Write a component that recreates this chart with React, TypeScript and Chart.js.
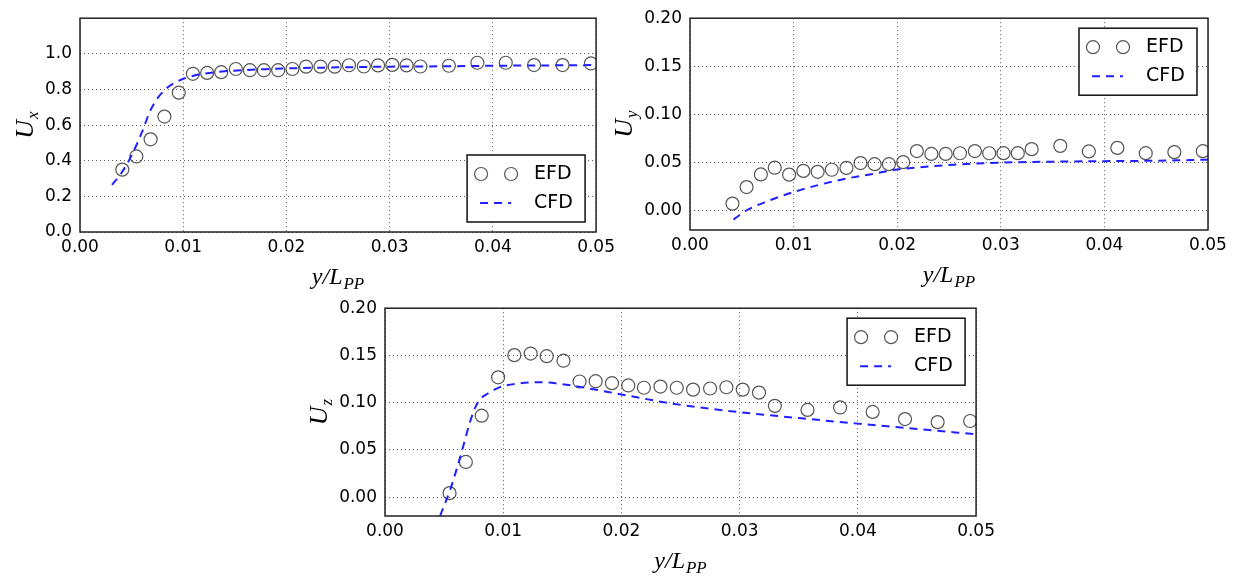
import React, { useEffect, useRef } from "react";
import { Chart, registerables } from "chart.js";
Chart.register(...registerables);

// ---------- data ----------
const xTicks = [0, 0.01, 0.02, 0.03, 0.04, 0.05];
const uxTicks = [0, 0.2, 0.4, 0.6, 0.8, 1.0];
const uyzTicks = [0, 0.05, 0.1, 0.15, 0.2];

const efdX = [
  0.0041, 0.00546, 0.00684, 0.00818, 0.00957, 0.01094, 0.01232, 0.01368, 0.0151, 0.01646,
  0.01782, 0.0192, 0.02058, 0.0219, 0.0233, 0.02468, 0.02606, 0.0275, 0.02888, 0.03026,
  0.03164, 0.03298, 0.03574, 0.0385, 0.04125, 0.04399, 0.04675, 0.0495,
];
const uxEfd = [
  0.35, 0.424, 0.52, 0.648, 0.782, 0.888, 0.893, 0.897, 0.915, 0.908,
  0.908, 0.908, 0.915, 0.928, 0.928, 0.928, 0.936, 0.929, 0.935, 0.938,
  0.935, 0.929, 0.933, 0.95, 0.95, 0.937, 0.937, 0.946,
];
const uyEfd = [
  0.0074, 0.0246, 0.0377, 0.0447, 0.0375, 0.0414, 0.0404, 0.0426, 0.0445, 0.0495,
  0.0484, 0.0484, 0.0505, 0.062, 0.059, 0.059, 0.0597, 0.062, 0.0597, 0.0598,
  0.0598, 0.064, 0.0674, 0.0616, 0.0653, 0.0598, 0.0609, 0.0619,
];
const uzEfdX = [
  0.00546, 0.00684, 0.00818, 0.00957, 0.01094, 0.01232, 0.01368, 0.0151, 0.01646,
  0.01782, 0.0192, 0.02058, 0.0219, 0.0233, 0.02468, 0.02606, 0.0275, 0.02888, 0.03026,
  0.03164, 0.03298, 0.03574, 0.0385, 0.04125, 0.04399, 0.04675, 0.0495,
];
const uzEfd = [
  0.0042, 0.0372, 0.0862, 0.1268, 0.1503, 0.152, 0.1492, 0.1444, 0.1224,
  0.1227, 0.1206, 0.1182, 0.1158, 0.117, 0.1158, 0.1138, 0.115, 0.1163, 0.1138,
  0.1106, 0.0966, 0.0923, 0.0949, 0.0902, 0.0826, 0.0794, 0.0806,
];

const uxCfdX = [
  0.0031, 0.004, 0.005, 0.006, 0.0068, 0.0075, 0.008, 0.0086, 0.0093, 0.01, 0.011, 0.012,
  0.014, 0.016, 0.018, 0.02, 0.025, 0.03, 0.035, 0.04, 0.045, 0.05,
];
const uxCfd = [
  0.264, 0.33, 0.43, 0.56, 0.68, 0.75, 0.785, 0.817, 0.841, 0.86, 0.877, 0.888,
  0.902, 0.909, 0.914, 0.918, 0.924, 0.928, 0.93, 0.933, 0.935, 0.937,
];
const uyCfdX = [
  0.0042, 0.0054, 0.0075, 0.01, 0.0125, 0.015, 0.0175, 0.02, 0.0225, 0.0255, 0.03, 0.035,
  0.04, 0.045, 0.05,
];
const uyCfd = [
  -0.0092, 0.0, 0.01, 0.0195, 0.027, 0.0332, 0.038, 0.0428, 0.0455, 0.0479, 0.05, 0.051,
  0.0515, 0.052, 0.053,
];
const uzCfdX = [
  0.00466, 0.0055, 0.006, 0.0066, 0.0072, 0.0077, 0.0081, 0.0087, 0.0093, 0.01, 0.0114,
  0.0131, 0.015, 0.0175, 0.02, 0.0245, 0.03, 0.035, 0.04, 0.045, 0.05,
];
const uzCfd = [
  -0.0198, 0.0073, 0.027, 0.053, 0.08, 0.0966, 0.1043, 0.1097, 0.114, 0.1175, 0.1205,
  0.1217, 0.1195, 0.1145, 0.1087, 0.0986, 0.0899, 0.0837, 0.0778, 0.0722, 0.0665,
];

// ---------- helpers ----------
const MATH_FONT = '"Liberation Serif", "DejaVu Serif", serif';
const SANS = '"DejaVu Sans", sans-serif';
const CFD_COLOR = "#1f1fff";
const EFD_EDGE = "rgba(55,55,55,0.85)";

function drawMath(ctx: CanvasRenderingContext2D, main: string, sub: string, cx: number, baseY: number, mSize: number, sSize: number) {
  const mf = `italic ${mSize}px ${MATH_FONT}`;
  const sf = `italic ${sSize}px ${MATH_FONT}`;
  ctx.font = mf;
  const w1 = ctx.measureText(main).width;
  ctx.font = sf;
  const w2 = ctx.measureText(sub).width;
  const start = cx - (w1 + w2 + 1) / 2;
  ctx.fillStyle = "#000";
  ctx.textBaseline = "alphabetic";
  ctx.textAlign = "left";
  ctx.font = mf;
  ctx.fillText(main, start, baseY);
  ctx.font = sf;
  ctx.fillText(sub, start + w1 + 1, baseY + sSize * 0.3);
}

type PanelProps = {
  left: number; top: number; width: number; height: number;
  yAxisW: number; xAxisH: number; padTop: number; padRight: number;
  efdXs: number[]; efdYs: number[]; cfdXs: number[]; cfdYs: number[];
  yMin: number; yMax: number; yTickVals: number[]; yDigits: number;
  ySub: string; yLabelOffset: number; legendPos: "top" | "bottom";
};

function Panel(p: PanelProps) {
  const ref = useRef<HTMLCanvasElement | null>(null);
  useEffect(() => {
    if (!ref.current) return;
    const decor = {
      id: "decor",
      afterDraw(chart: any) {
        const { ctx, chartArea: a } = chart;
        ctx.save();
        // frame
        ctx.setLineDash([]);
        ctx.strokeStyle = "#222";
        ctx.lineWidth = 1.5;
        ctx.strokeRect(a.left, a.top, a.right - a.left, a.bottom - a.top);
        // legend
        const lw = 118, lh = 67;
        const lx = a.right - 11 - lw;
        const ly = p.legendPos === "bottom" ? a.bottom - 10 - lh : a.top + 10;
        ctx.fillStyle = "#fff";
        ctx.fillRect(lx, ly, lw, lh);
        ctx.strokeStyle = "#111";
        ctx.lineWidth = 1.5;
        ctx.strokeRect(lx, ly, lw, lh);
        ctx.strokeStyle = EFD_EDGE;
        ctx.lineWidth = 1.2;
        [14, 44].forEach((dx) => {
          ctx.beginPath();
          ctx.arc(lx + dx, ly + 19, 6.5, 0, Math.PI * 2);
          ctx.stroke();
        });
        ctx.strokeStyle = CFD_COLOR;
        ctx.lineWidth = 2;
        ctx.setLineDash([8, 6]);
        ctx.beginPath();
        ctx.moveTo(lx + 13, ly + 48);
        ctx.lineTo(lx + 44, ly + 48);
        ctx.stroke();
        ctx.setLineDash([]);
        ctx.fillStyle = "#000";
        ctx.font = `19px ${SANS}`;
        ctx.textAlign = "left";
        ctx.textBaseline = "middle";
        ctx.fillText("EFD", lx + 67, ly + 19);
        ctx.fillText("CFD", lx + 67, ly + 48);
        // x title
        drawMath(ctx, "y/L", "PP", (a.left + a.right) / 2, a.bottom + 52, 24, 17);
        // y title
        ctx.translate(a.left - p.yLabelOffset, (a.top + a.bottom) / 2);
        ctx.rotate(-Math.PI / 2);
        drawMath(ctx, "U", p.ySub, 0, 0, 26, 17);
        ctx.restore();
      },
    };
    const chart = new Chart(ref.current, {
      type: "scatter",
      data: {
        datasets: [
          {
            label: "CFD",
            data: p.cfdXs.map((x, i) => ({ x, y: p.cfdYs[i] })),
            showLine: true,
            pointRadius: 0,
            borderColor: CFD_COLOR,
            borderWidth: 2,
            borderDash: [8, 6],
            fill: false,
            cubicInterpolationMode: "monotone",
          } as any,
          {
            label: "EFD",
            data: p.efdXs.map((x, i) => ({ x, y: p.efdYs[i] })),
            showLine: false,
            pointRadius: 6.5,
            pointBorderColor: EFD_EDGE,
            pointBackgroundColor: "rgba(0,0,0,0)",
            pointBorderWidth: 1.2,
          },
        ],
      },
      options: {
        animation: false,
        responsive: false,
        devicePixelRatio: 1,
        layout: { padding: { top: p.padTop, right: p.padRight, left: 0, bottom: 0 } },
        plugins: { legend: { display: false }, tooltip: { enabled: false } },
        scales: {
          x: {
            type: "linear",
            min: 0,
            max: 0.05,
            afterFit: (s: any) => { s.height = p.xAxisH; },
            afterBuildTicks: (s: any) => { s.ticks = xTicks.map((v) => ({ value: v })); },
            ticks: {
              color: "#000",
              font: { family: SANS, size: 17 },
              padding: 5,
              maxRotation: 0,
              callback: (v: any) => Number(v).toFixed(2),
            },
            grid: { color: "rgba(0,0,0,0.65)", lineWidth: 1, drawTicks: false },
            border: { display: false, dash: [1, 3] },
          },
          y: {
            type: "linear",
            min: p.yMin,
            max: p.yMax,
            afterFit: (s: any) => { s.width = p.yAxisW; },
            afterBuildTicks: (s: any) => { s.ticks = p.yTickVals.map((v) => ({ value: v })); },
            ticks: {
              color: "#000",
              font: { family: SANS, size: 17 },
              padding: 8,
              callback: (v: any) => Number(v).toFixed(p.yDigits),
            },
            grid: { color: "rgba(0,0,0,0.65)", lineWidth: 1, drawTicks: false },
            border: { display: false, dash: [1, 3] },
          },
        },
      } as any,
      plugins: [decor],
    });
    return () => chart.destroy();
  }, []);
  return (
    <div style={{ position: "absolute", left: p.left, top: p.top, width: p.width, height: p.height }}>
      <canvas ref={ref} width={p.width} height={p.height} style={{ width: p.width, height: p.height, display: "block" }} />
    </div>
  );
}

export default function App() {
  return (
    <div style={{ position: "fixed", left: 0, top: 0, width: 1238, height: 577, background: "#fff", overflow: "hidden" }}>
      <Panel
        left={0} top={0} width={620} height={290}
        yAxisW={80} xAxisH={58} padTop={16} padRight={19}
        efdXs={efdX} efdYs={uxEfd} cfdXs={uxCfdX} cfdYs={uxCfd}
        yMin={0} yMax={1.2} yTickVals={uxTicks} yDigits={1}
        ySub="x" yLabelOffset={47} legendPos="bottom"
      />
      <Panel
        left={600} top={0} width={638} height={290}
        yAxisW={90} xAxisH={60} padTop={17} padRight={30}
        efdXs={efdX} efdYs={uyEfd} cfdXs={uyCfdX} cfdYs={uyCfd}
        yMin={-0.02} yMax={0.2} yTickVals={uyzTicks} yDigits={2}
        ySub="y" yLabelOffset={58} legendPos="top"
      />
      <Panel
        left={300} top={290} width={700} height={287}
        yAxisW={85} xAxisH={61} padTop={14} padRight={21}
        efdXs={uzEfdX} efdYs={uzEfd} cfdXs={uzCfdX} cfdYs={uzCfd}
        yMin={-0.02} yMax={0.2} yTickVals={uyzTicks} yDigits={2}
        ySub="z" yLabelOffset={58} legendPos="top"
      />
    </div>
  );
}
